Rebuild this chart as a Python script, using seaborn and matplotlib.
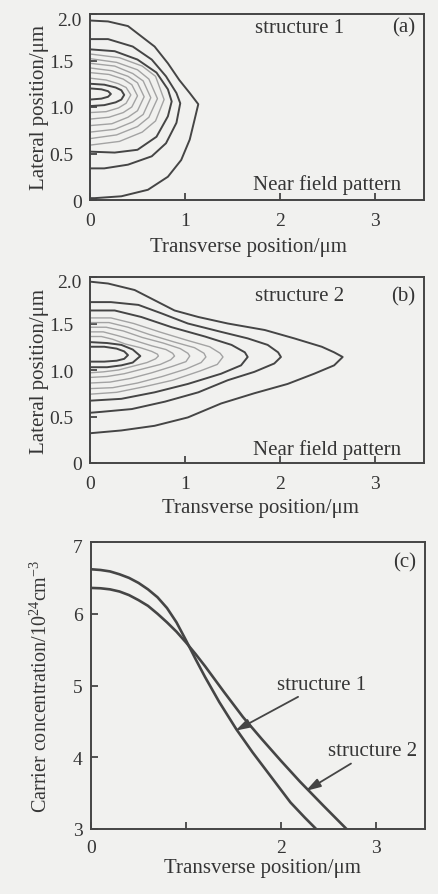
import matplotlib
matplotlib.use("Agg")
import matplotlib.pyplot as plt
import matplotlib.transforms as mtransforms
import pandas as pd
import seaborn as sns

# ---------------- data ----------------
x_ticks = [0, 1, 2, 3]
x_labels_ab = ["0", "1", "2", "3"]
x_labels_c = ["0", "", "2", "3"]
y_ticks_ab = [0, 0.5, 1.0, 1.5, 2.0]
y_labels_ab = ["0", "0.5", "1.0", "1.5", "2.0"]
y_ticks_c = [3, 4, 5, 6, 7]
y_labels_c = ["3", "4", "5", "6", "7"]

# panel (a) - structure 1 near field contours (x, y) in um
a_dark_1 = [(0, 1.93), (0.19, 1.92), (0.40, 1.87), (0.54, 1.76), (0.68, 1.65), (0.82, 1.47),
            (0.94, 1.29), (1.05, 1.15), (1.14, 1.03), (1.10, 0.86), (1.05, 0.65), (0.96, 0.43),
            (0.82, 0.25), (0.61, 0.11), (0.33, 0.04), (0.05, 0.02), (0, 0.02)]
a_dark_2 = [(0, 1.73), (0.19, 1.73), (0.45, 1.65), (0.65, 1.51), (0.80, 1.33), (0.91, 1.15),
            (0.95, 1.04), (0.91, 0.83), (0.80, 0.61), (0.65, 0.47), (0.40, 0.38), (0.15, 0.34),
            (0, 0.34)]
a_dark_3 = [(0, 1.62), (0.26, 1.60), (0.50, 1.51), (0.70, 1.37), (0.82, 1.19), (0.86, 1.06),
            (0.82, 0.90), (0.70, 0.68), (0.50, 0.54), (0.26, 0.51), (0, 0.52)]
a_light_6 = [(0, 1.57), (0.31, 1.53), (0.55, 1.44), (0.69, 1.33), (0.78, 1.08), (0.69, 0.85),
             (0.55, 0.73), (0.31, 0.63), (0, 0.59)]
a_light_5 = [(0, 1.52), (0.28, 1.48), (0.50, 1.40), (0.62, 1.30), (0.71, 1.09), (0.62, 0.89),
             (0.50, 0.79), (0.28, 0.70), (0, 0.66)]
a_light_4 = [(0, 1.47), (0.26, 1.44), (0.45, 1.36), (0.56, 1.28), (0.64, 1.10), (0.56, 0.92),
             (0.45, 0.84), (0.26, 0.76), (0, 0.73)]
a_light_3 = [(0, 1.42), (0.23, 1.39), (0.40, 1.33), (0.50, 1.26), (0.57, 1.11), (0.50, 0.96),
             (0.40, 0.89), (0.23, 0.82), (0, 0.80)]
a_light_2 = [(0, 1.37), (0.20, 1.35), (0.35, 1.30), (0.44, 1.24), (0.50, 1.12), (0.44, 1.00),
             (0.35, 0.94), (0.20, 0.89), (0, 0.87)]
a_light_1 = [(0, 1.31), (0.17, 1.29), (0.30, 1.25), (0.38, 1.21), (0.43, 1.13), (0.38, 1.04),
             (0.30, 0.99), (0.17, 0.95), (0, 0.94)]
a_inner_2 = [(0, 1.25), (0.15, 1.24), (0.27, 1.21), (0.33, 1.18), (0.36, 1.13), (0.33, 1.08),
             (0.27, 1.05), (0.15, 1.02), (0, 1.01)]
a_inner_1 = [(0, 1.20), (0.12, 1.19), (0.19, 1.17), (0.22, 1.14), (0.19, 1.11), (0.12, 1.09),
             (0, 1.08)]

# panel (b) - structure 2 near field contours
b_dark_1 = [(0, 1.95), (0.19, 1.93), (0.47, 1.86), (0.68, 1.75), (0.89, 1.64), (1.14, 1.57),
            (1.45, 1.50), (1.84, 1.43), (2.15, 1.34), (2.44, 1.25), (2.57, 1.19), (2.66, 1.14),
            (2.57, 1.05), (2.36, 0.96), (2.08, 0.85), (1.73, 0.75), (1.38, 0.64), (1.03, 0.49),
            (0.68, 0.40), (0.33, 0.35), (0, 0.32)]
b_dark_2 = [(0, 1.73), (0.22, 1.73), (0.51, 1.70), (0.75, 1.61), (1.03, 1.50), (1.38, 1.41),
            (1.66, 1.34), (1.87, 1.27), (1.98, 1.19), (2.01, 1.14), (1.94, 1.07), (1.73, 0.98),
            (1.45, 0.89), (1.14, 0.76), (0.79, 0.66), (0.44, 0.58), (0.12, 0.55), (0, 0.54)]
b_dark_3 = [(0, 1.64), (0.26, 1.64), (0.54, 1.57), (0.86, 1.46), (1.21, 1.36), (1.49, 1.27),
            (1.63, 1.19), (1.66, 1.14), (1.59, 1.05), (1.38, 0.96), (1.03, 0.85), (0.68, 0.76),
            (0.33, 0.69), (0, 0.67)]
b_light_5 = [(0, 1.56), (0.22, 1.56), (0.46, 1.50), (0.73, 1.41), (1.02, 1.32), (1.26, 1.25),
             (1.37, 1.18), (1.40, 1.14), (1.34, 1.06), (1.16, 0.99), (0.87, 0.89), (0.57, 0.82),
             (0.28, 0.76), (0, 0.74)]
b_light_4 = [(0, 1.51), (0.20, 1.51), (0.40, 1.46), (0.63, 1.38), (0.89, 1.30), (1.10, 1.24),
             (1.20, 1.18), (1.22, 1.14), (1.17, 1.08), (1.01, 1.01), (0.76, 0.93), (0.50, 0.86),
             (0.24, 0.81), (0, 0.80)]
b_light_3 = [(0, 1.46), (0.17, 1.46), (0.35, 1.42), (0.55, 1.35), (0.77, 1.29), (0.95, 1.23),
             (1.03, 1.18), (1.05, 1.15), (1.01, 1.09), (0.87, 1.04), (0.65, 0.97), (0.43, 0.91),
             (0.21, 0.87), (0, 0.86)]
b_light_2 = [(0, 1.41), (0.14, 1.41), (0.29, 1.37), (0.46, 1.32), (0.65, 1.26), (0.80, 1.22),
             (0.87, 1.18), (0.89, 1.15), (0.85, 1.11), (0.74, 1.06), (0.55, 1.01), (0.36, 0.96),
             (0.18, 0.93), (0, 0.92)]
b_light_1 = [(0, 1.36), (0.12, 1.36), (0.24, 1.33), (0.37, 1.28), (0.53, 1.24), (0.65, 1.20),
             (0.71, 1.17), (0.72, 1.15), (0.69, 1.12), (0.60, 1.08), (0.45, 1.04), (0.30, 1.00),
             (0.14, 0.98), (0, 0.97)]
b_inner_2 = [(0, 1.30), (0.18, 1.29), (0.33, 1.27), (0.45, 1.22), (0.53, 1.15), (0.45, 1.08),
             (0.33, 1.05), (0.18, 1.03), (0, 1.03)]
b_inner_1 = [(0, 1.25), (0.15, 1.25), (0.28, 1.23), (0.36, 1.20), (0.40, 1.16), (0.36, 1.12),
             (0.28, 1.10), (0.15, 1.09), (0, 1.09)]

# panel (c) - carrier concentration (10^24 cm^-3)
s1_x = [0, 0.1, 0.2, 0.3, 0.4, 0.5, 0.6, 0.7, 0.8, 0.9, 1.0, 1.1, 1.2, 1.35, 1.53, 1.7, 1.9,
        2.1, 2.25, 2.37]
s1_y = [6.62, 6.61, 6.59, 6.55, 6.50, 6.43, 6.34, 6.23, 6.08, 5.88, 5.63, 5.37, 5.12, 4.77,
        4.39, 4.07, 3.72, 3.37, 3.16, 3.0]
s2_x = [0, 0.1, 0.2, 0.3, 0.4, 0.5, 0.6, 0.7, 0.8, 0.9, 1.0, 1.1, 1.2, 1.4, 1.6, 1.8, 2.0,
        2.2, 2.45, 2.69]
s2_y = [6.36, 6.355, 6.34, 6.31, 6.26, 6.19, 6.11, 6.00, 5.88, 5.75, 5.60, 5.44, 5.27, 4.91,
        4.56, 4.25, 3.95, 3.66, 3.32, 3.0]

# ---------------- style ----------------
sns.set_theme(style="ticks")
plt.rcParams["font.family"] = ["Liberation Serif", "DejaVu Serif"]
plt.rcParams["mathtext.fontset"] = "custom"
plt.rcParams["mathtext.rm"] = "Liberation Serif"
plt.rcParams["mathtext.it"] = "Liberation Serif:italic"

BG = "#f1f1ef"
DARK = "#454545"
LIGHT = "#a3a3a3"
TXT = "#353535"
FS = 15
TFS = 14

W, H = 438, 895
fig = plt.figure(figsize=(W / 100, H / 100), dpi=100, facecolor=BG)


def add_ax(left, top, right, bottom):
    return fig.add_axes([left / W, 1 - bottom / H, (right - left) / W, (bottom - top) / H])


def style_ax(ax, xpad):
    ax.set_facecolor(BG)
    for s in ax.spines.values():
        s.set_color(DARK)
        s.set_linewidth(1.4)
    ax.tick_params(direction="in", length=5, width=1.3, color=DARK, labelcolor=TXT,
                   labelsize=TFS, top=False, right=False)
    ax.tick_params(axis="x", pad=xpad)
    ax.tick_params(axis="y", pad=6)


def shift_labels(ax, idx, dx_px, dy_px):
    off = mtransforms.ScaledTranslation(dx_px / 100, dy_px / 100, fig.dpi_scale_trans)
    labels = ax.get_yticklabels()
    for i in idx:
        labels[i].set_transform(labels[i].get_transform() + off)


def draw_contour(ax, pts, color, lw):
    df = pd.DataFrame(pts, columns=["x", "y"])
    sns.lineplot(data=df, x="x", y="y", sort=False, estimator=None, ax=ax,
                 color=color, linewidth=lw)


def near_field(ax, dark, light, tag, name, name_y, nf_y, xlab_x, xlab_y):
    for c in light:
        draw_contour(ax, c, LIGHT, 1.0)
    for c in dark:
        draw_contour(ax, c, DARK, 1.4)
    ax.set_xlim(0, 3.516)
    ax.set_ylim(0, 2.0)
    ax.set_xticks(x_ticks)
    ax.set_xticklabels(x_labels_ab)
    ax.set_yticks(y_ticks_ab)
    ax.set_yticklabels(y_labels_ab)
    ax.set_xlabel("Transverse position/\u03bcm", fontsize=FS, color=TXT)
    ax.set_ylabel("Lateral position/\u03bcm", fontsize=FS, color=TXT)
    ax.xaxis.set_label_coords(xlab_x, xlab_y)
    ax.yaxis.set_label_coords(-0.124, 0.5)
    ax.text(1.74, name_y, name, fontsize=FS, color=TXT, va="center", ha="left")
    ax.text(3.42, name_y, tag, fontsize=FS, color=TXT, va="center", ha="right")
    ax.text(3.27, nf_y, "Near field pattern", fontsize=FS, color=TXT, va="center", ha="right")
    style_ax(ax, 8.5)
    shift_labels(ax, [1, 2, 3], -8, 0)
    shift_labels(ax, [4], 0, -4)


ax_a = add_ax(90, 15, 424, 201)
near_field(ax_a,
           [a_dark_1, a_dark_2, a_dark_3, a_inner_2, a_inner_1],
           [a_light_6, a_light_5, a_light_4, a_light_3, a_light_2, a_light_1],
           "(a)", "structure 1", 1.86, 0.17, 0.473, -0.2)

ax_b = add_ax(90, 278, 424, 464)
near_field(ax_b,
           [b_dark_1, b_dark_2, b_dark_3, b_inner_2, b_inner_1],
           [b_light_5, b_light_4, b_light_3, b_light_2, b_light_1],
           "(b)", "structure 2", 1.80, 0.15, 0.51, -0.19)

ax_c = add_ax(91, 543, 425, 830)
sns.lineplot(x=s1_x, y=s1_y, sort=False, estimator=None, ax=ax_c, color=DARK, linewidth=1.9)
sns.lineplot(x=s2_x, y=s2_y, sort=False, estimator=None, ax=ax_c, color=DARK, linewidth=1.9)
ax_c.set_xlim(0, 3.516)
ax_c.set_ylim(3, 7)
ax_c.set_xticks(x_ticks)
ax_c.set_xticklabels(x_labels_c)
ax_c.set_yticks(y_ticks_c)
ax_c.set_yticklabels(y_labels_c)
ax_c.set_xlabel("Transverse position/\u03bcm", fontsize=FS, color=TXT)
ax_c.set_ylabel("Carrier concentration/10$^{24}$cm$^{-3}$", fontsize=14.5, color=TXT)
ax_c.xaxis.set_label_coords(0.513, -0.1)
ax_c.yaxis.set_label_coords(-0.117, 0.5)
ax_c.text(3.42, 6.72, "(c)", fontsize=FS, color=TXT, va="center", ha="right")
arrow = dict(arrowstyle="-|>,head_length=0.6,head_width=0.18", color=DARK, lw=1.3,
             shrinkA=0, shrinkB=0)
ax_c.annotate("structure 1", xy=(1.52, 4.37), xytext=(1.96, 5.02), fontsize=FS, color=TXT,
              ha="left", va="center", arrowprops=arrow)
ax_c.annotate("structure 2", xy=(2.26, 3.53), xytext=(2.49, 4.09), fontsize=FS, color=TXT,
              ha="left", va="center", arrowprops=arrow)
style_ax(ax_c, 7)
shift_labels(ax_c, [4], 0, -4)

fig.savefig("out.png", dpi=100, facecolor=BG)
